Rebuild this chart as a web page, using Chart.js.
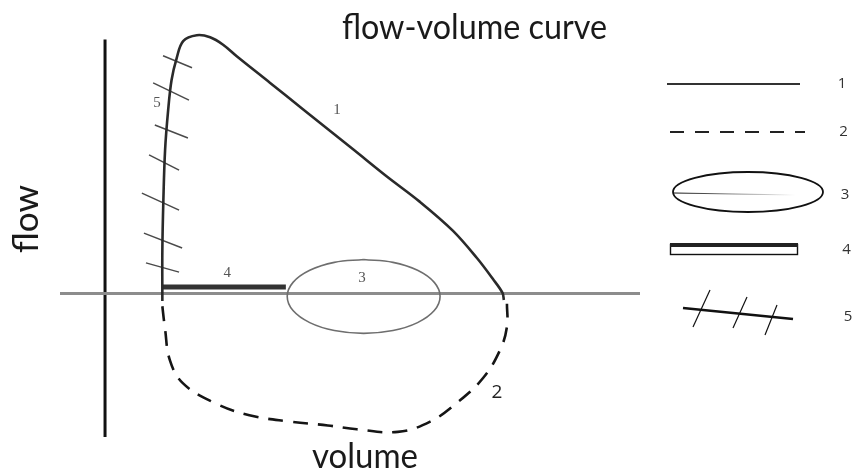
<!DOCTYPE html>
<html>
<head>
<meta charset="utf-8">
<script src="https://cdn.jsdelivr.net/npm/chart.js@4"></script>
<style>
  html, body { margin: 0; padding: 0; background: #fff; }
  canvas { display: block; }
</style>
</head>
<body>
<canvas id="chart" width="857" height="470"></canvas>
<script>
// 1 - normal expiratory flow-volume curve
const expVolume = [0, 0, 0.03, 0.08, 0.17, 0.27, 0.42, 0.61, 1.01, 1.4, 1.78, 2.18, 3.16, 4.12, 5.59, 6.58, 7.55, 8.52, 9.22, 9.69, 9.97, 10.01];
const expFlow   = [-0.3, 1.69, 3.64, 5.59, 7.15, 8.32, 9.18, 9.84, 10.07, 9.99, 9.7, 9.25, 8.21, 7.18, 5.62, 4.56, 3.57, 2.44, 1.38, 0.56, 0.02, -0.26];

// 2 - inspiratory limb (dashed)
const inspVolume = [0, 0.08, 0.22, 0.6, 1.5, 2.55, 3.75, 4.85, 5.7, 6.9, 7.85, 8.65, 9.4, 9.9, 10.1, 10.1];
const inspFlow   = [-0.5, -1.4, -2.6, -3.5, -4.25, -4.75, -5.0, -5.15, -5.3, -5.4, -5.0, -4.25, -3.3, -2.2, -1.3, -0.4];

// 3 - tidal breathing loop
const tidalVolume = [5.9, 5.04, 4.32, 3.83, 3.66, 3.83, 4.32, 5.04, 5.9, 6.76, 7.48, 7.97, 8.14, 7.97, 7.48, 6.76, 5.9];
const tidalFlow   = [1.32, 1.21, 0.9, 0.43, -0.12, -0.67, -1.14, -1.45, -1.56, -1.45, -1.14, -0.67, -0.12, 0.43, 0.9, 1.21, 1.32];

// 4 - residual segment
const resVolume = [0, 3.62];
const resFlow   = [0.25, 0.25];

// 5 - hatch marks on the rising limb (start/end of each mark)
const hatchVolume = [[0.02, 0.87], [-0.27, 0.78], [-0.22, 0.75], [-0.39, 0.49], [-0.6, 0.49], [-0.54, 0.58], [-0.48, 0.49]];
const hatchFlow   = [[9.27, 8.8], [8.21, 7.54], [6.57, 6.06], [5.4, 4.81], [3.91, 3.25], [2.35, 1.77], [1.19, 0.83]];

// axes drawn as plain lines
const volAxisRange = [-3, 14];
const flowAxisX = -1.68;
const flowAxisRange = [9.9, -5.6];

// curve numbers inside the plot
const curveLabels = ["1", "2", "3", "4", "5"];
const curveLabelVolume = [5.12, 9.81, 5.85, 1.9, -0.16];
const curveLabelFlow   = [7.15, -3.88, 0.6, 0.8, 7.43];

const toPoints = (xs, ys) => xs.map((x, i) => ({ x: x, y: ys[i] }));

const lineSet = (data, color, width, extra = {}) => ({
    data: data,
    showLine: true,
    fill: false,
    borderColor: color,
    borderWidth: width,
    pointRadius: 0,
    clip: false,
    ...extra,
});

const datasets = [
    lineSet(toPoints(volAxisRange, [0, 0]), "#8c8c8c", 3, { order: 10 }),
    lineSet(toPoints([flowAxisX, flowAxisX], flowAxisRange), "#111", 3, { order: 10 }),
    lineSet(toPoints(tidalVolume, tidalFlow), "#6e6e6e", 1.6, { tension: 0.4, order: 5 }),
    lineSet(toPoints(resVolume, resFlow), "#333", 5, { order: 4 }),
    lineSet(toPoints(inspVolume, inspFlow), "#151515", 2.6, { tension: 0.4, borderDash: [15, 10], order: 3 }),
    lineSet(toPoints(expVolume, expFlow), "#2a2a2a", 2.6, { tension: 0.35, order: 1 }),
];
hatchVolume.forEach((vs, i) => {
    datasets.push(lineSet(toPoints(vs, hatchFlow[i]), "#4a4a4a", 1.5, { order: 2 }));
});

const fitText = (ctx, text, x, y, width) => {
    const w = ctx.measureText(text).width;
    ctx.save();
    ctx.translate(x, y);
    ctx.scale(width / w, 1);
    ctx.fillText(text, 0, 0);
    ctx.restore();
};

const decorations = {
    id: "decorations",
    afterDatasetsDraw(chart) {
        const ctx = chart.ctx;
        const xs = chart.scales.x;
        const ys = chart.scales.y;

        // numbers on the curves
        ctx.save();
        ctx.textAlign = "center";
        ctx.textBaseline = "middle";
        curveLabels.forEach((t, i) => {
            ctx.font = t === "2" ? "19px 'Open Sans'" : "15px 'Liberation Serif'";
            ctx.fillStyle = t === "2" ? "#222" : "#555";
            ctx.fillText(t, xs.getPixelForValue(curveLabelVolume[i]), ys.getPixelForValue(curveLabelFlow[i]));
        });
        ctx.restore();

        // title and axis names
        ctx.save();
        ctx.fillStyle = "#1a1a1a";
        ctx.textAlign = "left";
        ctx.textBaseline = "alphabetic";
        ctx.font = "34px Lato";
        fitText(ctx, "flow-volume curve", 342, 39, 265);
        fitText(ctx, "volume", 312, 468, 106);
        ctx.translate(38, 253);
        ctx.rotate(-Math.PI / 2);
        fitText(ctx, "flow", 0, 0, 68);
        ctx.restore();

        // legend
        ctx.save();
        ctx.strokeStyle = "#333";
        ctx.lineWidth = 2;
        ctx.beginPath();
        ctx.moveTo(667, 84);
        ctx.lineTo(800, 84);
        ctx.stroke();

        ctx.strokeStyle = "#222";
        ctx.setLineDash([14, 11]);
        ctx.beginPath();
        ctx.moveTo(670, 132);
        ctx.lineTo(805, 132);
        ctx.stroke();
        ctx.setLineDash([]);

        ctx.lineWidth = 1.8;
        ctx.strokeStyle = "#111";
        ctx.beginPath();
        ctx.ellipse(748, 192, 75, 20, 0, 0, Math.PI * 2);
        ctx.stroke();
        const g = ctx.createLinearGradient(674, 0, 795, 0);
        g.addColorStop(0, "#111");
        g.addColorStop(1, "rgba(17,17,17,0)");
        ctx.strokeStyle = g;
        ctx.lineWidth = 1;
        ctx.beginPath();
        ctx.moveTo(674, 193);
        ctx.lineTo(795, 195);
        ctx.stroke();

        ctx.strokeStyle = "#111";
        ctx.lineWidth = 1.4;
        ctx.strokeRect(670.5, 244.5, 127, 10);
        ctx.fillStyle = "#222";
        ctx.fillRect(670, 243, 128, 4);

        ctx.lineWidth = 2.5;
        ctx.beginPath();
        ctx.moveTo(683, 308);
        ctx.lineTo(793, 319);
        ctx.stroke();
        ctx.lineWidth = 1.2;
        [[710, 290, 693, 327], [747, 297, 733, 328], [777, 305, 765, 335]].forEach(([a, b, c, d]) => {
            ctx.beginPath();
            ctx.moveTo(a, b);
            ctx.lineTo(c, d);
            ctx.stroke();
        });

        ctx.fillStyle = "#333";
        ctx.font = "15px 'Open Sans'";
        ctx.textAlign = "center";
        ctx.textBaseline = "middle";
        ["1", "2", "3", "4", "5"].forEach((t, i) => {
            ctx.fillText(t, 842 + i * 1.5, [84, 132, 195, 250, 317][i]);
        });
        ctx.restore();
    }
};

new Chart(document.getElementById("chart"), {
    type: "scatter",
    data: { datasets: datasets },
    options: {
        responsive: false,
        animation: false,
        layout: { padding: { left: 60, right: 217, top: 37, bottom: 33 } },
        plugins: {
            legend: { display: false },
            tooltip: { enabled: false },
        },
        scales: {
            x: { type: "linear", display: false, min: -3, max: 14 },
            y: { type: "linear", display: false, min: -5.6, max: 10 },
        },
    },
    plugins: [decorations],
});
</script>
</body>
</html>
